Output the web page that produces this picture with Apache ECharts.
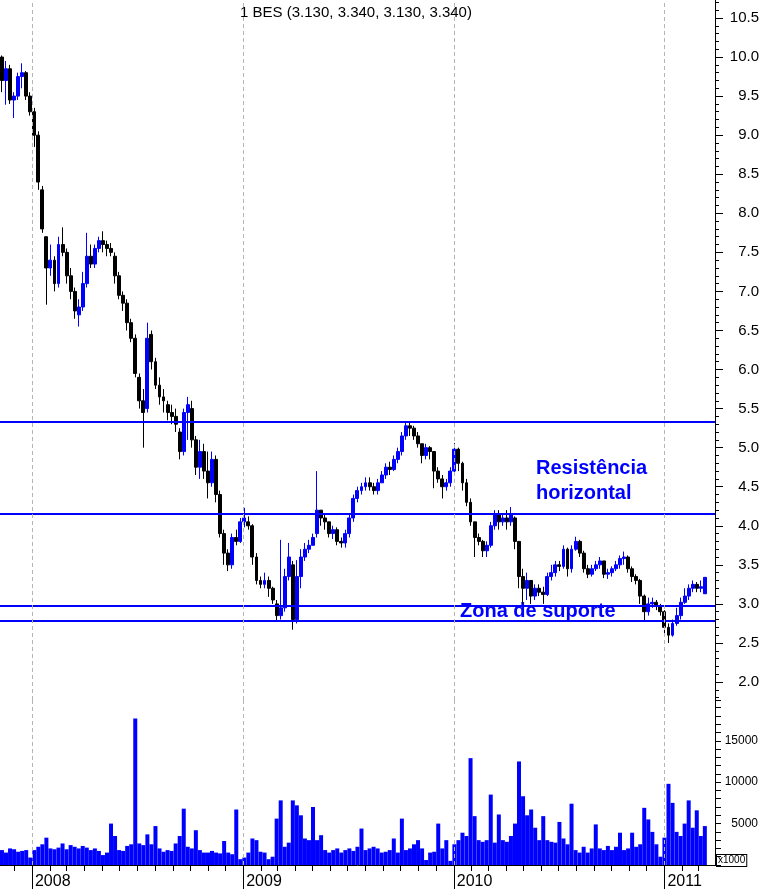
<!DOCTYPE html>
<html><head><meta charset="utf-8">
<script src="https://cdn.jsdelivr.net/npm/echarts@6/dist/echarts.min.js"></script>
<style>html,body{margin:0;padding:0;background:#fff}#c{width:764px;height:890px}</style>
</head><body><div id="c"></div>
<script>
const titleText = '1 BES (3.130, 3.340, 3.130, 3.340)';
const firstWeek = [2007, 10, 10];   // centre date of first weekly bar
const weekOpen = [10.0,9.7,9.85,9.45,9.5,9.75,9.8,9.5,9.3,9.0,8.3,7.7,7.3,7.4,7.1,7.6,7.5,7.2,7.0,6.7,6.8,7.1,7.45,7.35,7.55,7.65,7.6,7.55,7.45,7.2,6.95,6.85,6.6,6.4,5.9,5.6,5.5,6.45,6.1,5.8,5.65,5.55,5.45,5.4,5.2,4.95,5.45,5.5,5.1,4.75,4.95,4.7,4.55,4.85,4.4,3.9,3.65,3.5,3.85,3.8,4.05,4.05,4.0,3.6,3.3,3.25,3.3,3.2,3.0,2.85,2.95,3.35,3.5,2.8,3.35,3.6,3.7,3.75,3.9,4.2,4.1,4.05,3.9,3.95,3.8,3.78,3.9,4.1,4.35,4.45,4.5,4.55,4.5,4.45,4.55,4.65,4.75,4.72,4.85,4.95,5.15,5.28,5.25,5.15,5.05,4.9,5.0,4.95,4.7,4.6,4.5,4.55,4.7,4.98,4.8,4.55,4.3,4.05,3.85,3.8,3.68,3.75,4.0,4.15,4.05,4.1,4.05,4.1,3.8,3.35,3.2,3.3,3.1,3.2,3.15,3.12,3.35,3.4,3.5,3.48,3.7,3.45,3.7,3.8,3.65,3.45,3.38,3.45,3.5,3.55,3.38,3.4,3.45,3.5,3.58,3.6,3.45,3.35,3.3,3.1,2.9,3.0,3.02,2.98,2.9,2.7,2.6,2.75,2.85,3.02,3.1,3.2,3.25,3.2,3.13];
const weekClose = [9.7,9.85,9.45,9.5,9.75,9.8,9.5,9.3,9.0,8.4,7.8,7.3,7.4,7.1,7.6,7.5,7.2,7.0,6.75,6.8,7.1,7.45,7.35,7.55,7.65,7.6,7.55,7.5,7.2,6.95,6.85,6.6,6.4,5.95,5.6,5.45,6.4,6.1,5.8,5.65,5.6,5.45,5.4,5.3,4.95,5.45,5.55,5.1,4.75,4.95,4.7,4.55,4.85,4.4,3.9,3.65,3.5,3.85,3.8,4.05,4.1,4.0,3.6,3.3,3.25,3.3,3.2,3.05,2.85,2.95,3.35,3.6,2.8,3.35,3.6,3.7,3.75,3.85,4.2,4.1,4.05,3.9,3.95,3.8,3.78,3.9,4.1,4.35,4.45,4.5,4.55,4.5,4.45,4.55,4.65,4.75,4.72,4.85,4.95,5.15,5.28,5.25,5.15,5.05,4.9,5.0,4.95,4.7,4.6,4.5,4.55,4.7,4.98,4.8,4.55,4.3,4.05,3.85,3.8,3.68,3.75,4.0,4.15,4.05,4.1,4.05,4.15,3.8,3.35,3.2,3.3,3.1,3.2,3.15,3.12,3.35,3.4,3.5,3.48,3.7,3.45,3.7,3.8,3.65,3.45,3.38,3.45,3.5,3.55,3.38,3.4,3.45,3.5,3.58,3.6,3.45,3.35,3.3,3.1,2.9,3.0,3.02,2.98,2.9,2.7,2.6,2.75,2.85,3.02,3.1,3.2,3.25,3.2,3.22,3.34];
const weekLow = [9.55,9.39,9.4,9.22,9.45,9.6,9.45,9.25,8.85,8.3,7.75,6.83,7.2,7.0,7.05,7.45,7.1,6.9,6.65,6.55,6.75,7.05,7.3,7.3,7.5,7.5,7.45,7.45,7.1,6.9,6.75,6.5,6.35,5.9,5.5,5.0,5.45,6.0,5.75,5.55,5.45,5.35,5.3,5.2,4.85,4.9,5.1,5.0,4.65,4.6,4.6,4.35,4.5,4.3,3.85,3.5,3.42,3.45,3.75,3.78,3.98,3.95,3.5,3.25,3.2,3.2,3.09,3.0,2.77,2.8,2.9,3.3,2.67,2.75,3.2,3.55,3.65,3.75,3.85,4.0,3.95,3.85,3.83,3.75,3.72,3.72,3.85,4.05,4.3,4.4,4.45,4.45,4.4,4.4,4.55,4.6,4.65,4.7,4.8,4.9,5.1,5.15,5.1,5.0,4.8,4.85,4.85,4.48,4.55,4.35,4.45,4.5,4.65,4.7,4.45,4.25,4.0,3.6,3.75,3.6,3.6,3.72,3.95,3.95,4.0,3.95,4.0,3.7,3.2,3.0,3.05,3.0,3.05,3.1,3.0,3.1,3.3,3.35,3.42,3.45,3.35,3.4,3.68,3.6,3.4,3.33,3.35,3.42,3.45,3.33,3.32,3.35,3.42,3.45,3.5,3.4,3.28,3.25,3.0,2.77,2.85,2.95,2.92,2.85,2.6,2.5,2.58,2.72,2.8,3.0,3.05,3.15,3.15,3.15,3.13];
const weekHigh = [10.02,9.95,9.9,9.55,9.8,9.92,9.82,9.55,9.35,9.05,8.35,7.7,7.6,7.45,7.7,7.82,7.55,7.3,7.05,6.9,7.25,7.75,7.6,7.6,7.7,7.77,7.65,7.62,7.5,7.25,7.0,6.9,6.65,6.45,5.95,5.75,6.6,6.5,6.15,5.9,5.75,5.6,5.55,5.5,5.25,5.5,5.65,5.6,5.15,5.1,5.05,4.95,4.95,4.9,4.45,3.95,3.7,3.9,3.95,4.1,4.23,4.12,4.02,3.65,3.35,3.4,3.35,3.22,3.05,3.82,3.45,3.78,3.55,3.56,3.7,3.78,3.82,3.9,4.7,4.2,4.15,4.05,4.0,3.98,3.85,3.95,4.15,4.4,4.5,4.55,4.62,4.62,4.55,4.6,4.7,4.8,4.82,4.9,5.0,5.2,5.33,5.32,5.28,5.2,5.05,5.05,5.02,4.95,4.75,4.65,4.6,4.75,5.06,5.0,4.82,4.6,4.35,4.05,3.9,3.82,3.8,4.05,4.2,4.2,4.15,4.2,4.24,4.12,3.8,3.45,3.4,3.3,3.25,3.25,3.22,3.4,3.5,3.55,3.55,3.75,3.72,3.75,3.86,3.82,3.68,3.5,3.5,3.55,3.6,3.55,3.45,3.48,3.55,3.62,3.67,3.62,3.48,3.38,3.32,3.12,3.08,3.08,3.05,3.0,2.92,2.75,2.8,2.95,3.08,3.2,3.25,3.3,3.28,3.3,3.34];
const weekVolume = [1800,1500,2000,1900,1600,1700,1800,900,1800,2200,2500,3300,2000,1900,2100,2600,1900,2400,2200,2000,2300,2100,1800,2000,1700,1200,1500,5000,3500,1800,1700,2300,2500,17700,2600,2400,3700,2500,4700,2000,1600,1800,1700,2600,3500,6800,2200,2000,4200,1800,1500,1500,1700,1500,1400,2900,1500,1300,6700,700,900,1500,3200,3000,1600,1500,700,1000,5600,7800,2200,2700,7800,7200,6000,3200,3000,7000,3000,3600,1800,1500,1800,2000,1500,1800,2000,1700,2200,4400,1800,2000,2200,2000,1500,1600,1800,3200,1500,5600,1800,2000,2500,3000,2000,600,1500,1600,5000,2000,3000,500,2500,3000,3900,3500,12900,5900,3000,2800,3000,8500,2700,6100,3000,2800,3500,5000,12500,8300,6000,6700,4500,3000,5900,3000,2800,2700,5200,3200,2500,7400,1800,1500,2200,1500,2000,4900,2000,1800,2300,1800,2200,3900,1800,2000,3900,2200,2500,6900,5500,4000,2500,1000,3300,9800,7500,4000,3500,5000,7800,4500,6600,3500,4700];
const priceLabels = [2.0,2.5,3.0,3.5,4.0,4.5,5.0,5.5,6.0,6.5,7.0,7.5,8.0,8.5,9.0,9.5,10.0,10.5];
const levelLines = [5.33, 4.15, 2.97, 2.78];
const yearLabels = [2008, 2009, 2010, 2011];
const volumeLabels = [5000, 10000, 15000];
const resistText = 'Resistência\nhorizontal';
const supportText = 'Zona de suporte';
const unitText = 'x1000';

// x axis unit: days since 1 Jan 2008
const DAY = 86400000;
const T0 = Date.UTC(2008, 0, 1);
const dayOf = (y, m, d) => (Date.UTC(y, m, d) - T0) / DAY;
const firstDay = dayOf(firstWeek[0], firstWeek[1], firstWeek[2]);
const weekDays = weekOpen.map((_, i) => firstDay + i * 7);
const xMin = -55.4;
const xMax = dayOf(2011, 2, 29) + 0.6;
const yearDays = yearLabels.map(y => dayOf(y, 0, 1));
const monthDays = [];
for (let y = 2007; y <= 2011; y++) for (let m = 0; m < 12; m++) {
  const d = dayOf(y, m, 1);
  if (d > xMin && d < xMax) monthDays.push(d);
}
const yearOfDay = d => new Date(T0 + d * DAY + DAY / 2).getUTCFullYear();
const minorPrice = [];
for (let k = 18; k <= 107; k++) minorPrice.push(k / 10);

const candleData = weekDays.map((t, i) => [t, weekOpen[i], weekClose[i], weekLow[i], weekHigh[i]]);
const volData = weekDays.map((t, i) => [t, weekVolume[i]]);

const FONT = '"Liberation Sans", Arial, Helvetica, sans-serif';
const BLUE = '#0000ff';
const yearLine = t => ({ xAxis: t, lineStyle: { color: '#b4b4b4', type: [4, 3], width: 1 } });

const chart = echarts.init(document.getElementById('c'), null, { renderer: 'canvas' });
chart.setOption({
  animation: false,
  backgroundColor: '#ffffff',
  textStyle: { fontFamily: FONT },
  grid: [
    { left: 0, right: 49, top: 0, height: 700, containLabel: false },
    { left: 0, right: 49, top: 700, height: 166, containLabel: false }
  ],
  xAxis: [
    { gridIndex: 0, type: 'value', position: 'bottom', min: xMin, max: xMax, show: false, splitLine: { show: false } },
    { gridIndex: 1, type: 'value', position: 'bottom', min: xMin, max: xMax,
      axisLine: { show: true, onZero: false, lineStyle: { color: '#000', width: 1 } },
      axisTick: { show: true, customValues: monthDays, length: 6, lineStyle: { color: '#000' } },
      axisLabel: { show: true, customValues: yearDays, formatter: v => String(yearOfDay(v)),
        align: 'left', margin: 9, padding: [0, 0, 0, 3], fontSize: 16, color: '#000', fontFamily: FONT,
        showMinLabel: true, showMaxLabel: true, hideOverlap: false },
      splitLine: { show: false } },
    { gridIndex: 1, type: 'value', position: 'bottom', offset: 0, min: xMin, max: xMax,
      axisLine: { show: false, onZero: false },
      axisTick: { show: true, customValues: yearDays, length: 24, lineStyle: { color: '#000' } },
      axisLabel: { show: false }, splitLine: { show: false } }
  ],
  yAxis: [
    { gridIndex: 0, type: 'value', position: 'right', min: 1.7698, max: 10.7304,
      axisLine: { show: true, onZero: false, lineStyle: { color: '#000', width: 1 } },
      axisTick: { show: true, customValues: priceLabels, length: 8, lineStyle: { color: '#000' } },
      axisLabel: { show: true, customValues: priceLabels, formatter: v => v.toFixed(1), align: 'right',
        margin: 44, fontSize: 15, color: '#000', fontFamily: FONT, hideOverlap: false },
      splitLine: { show: false } },
    { gridIndex: 0, type: 'value', position: 'right', offset: 0, min: 1.7698, max: 10.7304,
      axisLine: { show: false, onZero: false },
      axisTick: { show: true, customValues: minorPrice, length: 4, lineStyle: { color: '#000' } },
      axisLabel: { show: false }, splitLine: { show: false } },
    { gridIndex: 1, type: 'value', position: 'right', min: 0, max: 19920, interval: 1000,
      axisLine: { show: true, onZero: false, lineStyle: { color: '#000', width: 1 } },
      axisTick: { show: true, length: 6, lineStyle: { color: '#000' } },
      axisLabel: { show: true, formatter: v => (volumeLabels.indexOf(v) >= 0 ? String(v) : ''),
        align: 'right', margin: 43, fontSize: 12, color: '#000', fontFamily: FONT, hideOverlap: false },
      splitLine: { show: false } }
  ],
  series: [
    { type: 'candlestick', name: 'BES', xAxisIndex: 0, yAxisIndex: 0, data: candleData, barWidth: 3.4,
      itemStyle: { color: BLUE, color0: '#000000', borderColor: BLUE, borderColor0: '#000000', borderColorDoji: '#000000', borderWidth: 1 },
      markLine: { silent: true, symbol: ['none', 'none'], label: { show: false }, animation: false,
        data: levelLines.map(v => ({ yAxis: v, lineStyle: { color: BLUE, width: 2, type: 'solid' } }))
          .concat(yearDays.map(yearLine)) } },
    { type: 'bar', name: 'Volume', xAxisIndex: 1, yAxisIndex: 2, data: volData, barWidth: 4,
      itemStyle: { color: BLUE },
      markLine: { silent: true, symbol: ['none', 'none'], label: { show: false }, animation: false,
        data: yearDays.map(yearLine) } }
  ],
  graphic: [
    { type: 'text', x: 356, y: 13, silent: true,
      style: { text: titleText, font: '15px ' + FONT, fill: '#000', align: 'center', verticalAlign: 'middle', textAlign: 'center', textVerticalAlign: 'middle' } },
    { type: 'text', x: 536, y: 456, silent: true,
      style: { text: resistText, font: 'bold 20px ' + FONT, fill: BLUE, lineHeight: 25 } },
    { type: 'text', x: 460, y: 599, silent: true,
      style: { text: supportText, font: 'bold 20px ' + FONT, fill: BLUE, lineHeight: 25 } },
    { type: 'text', x: 717, y: 855, silent: true,
      style: { text: unitText, font: '10px ' + FONT, fill: '#000', borderColor: '#000', borderWidth: 1, padding: [0, 1, 0, 1], lineHeight: 11, backgroundColor: '#fff' } }
  ]
});
</script></body></html>
